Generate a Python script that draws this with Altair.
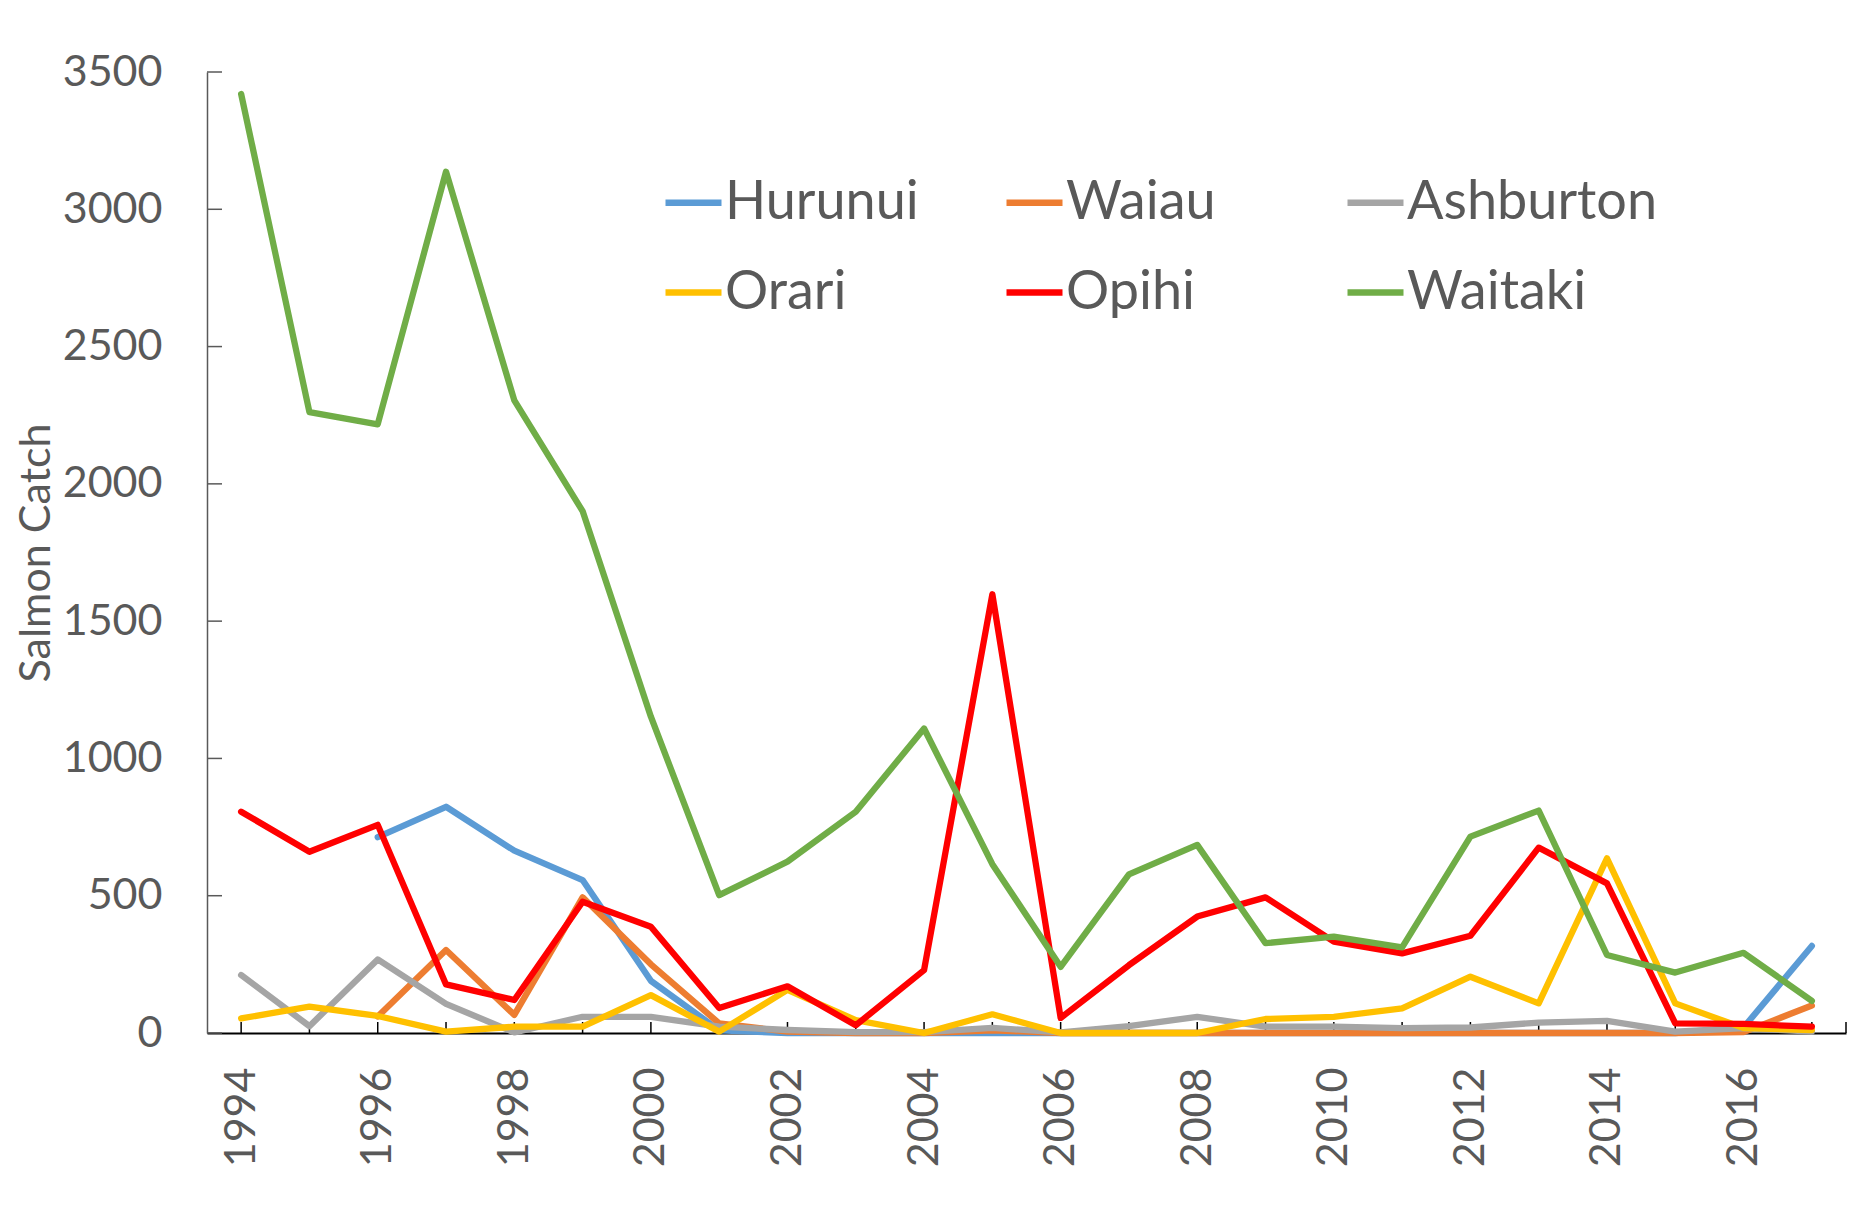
import altair as alt
import pandas as pd

years = list(range(1994, 2018))
series = ["Hurunui", "Waiau", "Ashburton", "Orari", "Opihi", "Waitaki"]
colors = ["#5B9BD5", "#ED7D31", "#A5A5A5", "#FFC000", "#FF0000", "#70AD47"]

hurunui = [None, None, 713, 824, 664, 557, 190, 10, 0, 0, 0, 0, 0, 0, 0, 0, 0, 0, 0, 0, 0, 0, 20, 317]
waiau = [None, None, 60, 302, 66, 494, 250, 35, 5, 0, 0, 10, 0, 0, 0, 0, 0, 0, 0, 0, 0, 0, 3, 100]
ashburton = [211, 25, 268, 106, 2, 59, 59, 23, 11, 3, 3, 19, 2, 25, 59, 23, 23, 18, 20, 38, 44, 5, 18, 5]
orari = [53, 96, 62, 5, 23, 23, 138, 5, 157, 47, 0, 68, 0, 0, 0, 51, 59, 90, 205, 108, 636, 108, 18, 11]
opihi = [806, 660, 758, 177, 120, 478, 387, 91, 170, 28, 229, 1598, 55, 247, 424, 494, 333, 290, 354, 675, 545, 35, 33, 23]
waitaki = [3420, 2261, 2217, 3137, 2304, 1901, 1152, 502, 624, 806, 1109, 615, 241, 578, 685, 327, 351, 312, 715, 810, 284, 220, 292, 117]

y_ticks = [0, 500, 1000, 1500, 2000, 2500, 3000, 3500]
x_label_years = list(range(1994, 2018, 2))
x_tick_positions = years + [2017.5]

values = [hurunui, waiau, ashburton, orari, opihi, waitaki]
rows = []
for name, vals in zip(series, values):
    for yr, v in zip(years, vals):
        if v is not None:
            rows.append({"Year": yr, "Catch": v, "River": name})
df = pd.DataFrame(rows)

W, H = 1639, 961
FONT = "Lato"
GREY = "#595959"

xscale = alt.Scale(domain=[1993.5, 2017.5], nice=False, zero=False)
yscale = alt.Scale(domain=[0, 3500], nice=False)

lines = alt.Chart(df).mark_line(strokeWidth=6.3, strokeCap="round", strokeJoin="round").encode(
    x=alt.X("Year:Q", scale=xscale,
            axis=alt.Axis(values=x_label_years, format="d", title=None, grid=False, ticks=False,
                          tickSize=0, labelAngle=270, labelPadding=34, labelFont=FONT,
                          labelFontSize=43, labelColor=GREY, domainColor="#000000",
                          domainWidth=2, labelFlush=False, labelOverlap=False)),
    y=alt.Y("Catch:Q", scale=yscale,
            axis=alt.Axis(values=y_ticks, format="d", title="Salmon Catch", grid=False, ticks=False,
                          tickSize=0, labelPadding=45, labelFont=FONT, labelFontSize=43,
                          labelColor=GREY, domainColor=GREY, domainWidth=1.5,
                          titleFont=FONT, titleFontSize=43, titleFontWeight="normal",
                          titleColor=GREY, titlePadding=4, labelFlush=False)),
    color=alt.Color("River:N", scale=alt.Scale(domain=series, range=colors),
                    legend=alt.Legend(title=None, orient="none", legendX=455, legendY=99,
                                      direction="horizontal", columns=3, gridAlign="all",
                                      columnPadding=17, rowPadding=31,
                                      symbolType="stroke", symbolSize=3136, symbolStrokeWidth=6.3,
                                      labelFont=FONT, labelFontSize=54, labelColor=GREY,
                                      labelOffset=0, padding=0, labelLimit=400)),
    detail="River:N",
    order=alt.Order("Year:Q"),
)

ytick_df = pd.DataFrame({"v": y_ticks})
yticks = alt.Chart(ytick_df).mark_rule(color=GREY, strokeWidth=1.5).encode(
    y=alt.Y("v:Q", scale=yscale),
    x=alt.value(0),
    x2=alt.value(15),
)

xtick_df = pd.DataFrame({"t": x_tick_positions})
xticks = alt.Chart(xtick_df).mark_rule(color="#000000", strokeWidth=1.5).encode(
    x=alt.X("t:Q", scale=xscale),
    y=alt.value(H),
    y2=alt.value(H - 11),
)

chart = alt.layer(yticks, xticks, lines).properties(
    width=W, height=H,
    autosize=alt.AutoSizeParams(type="none"),
    padding={"left": 199, "top": 64, "right": 10, "bottom": 150},
    background="white",
).configure_view(stroke=None)

chart.save("out.html", embed_options={"renderer": "svg", "actions": False})
